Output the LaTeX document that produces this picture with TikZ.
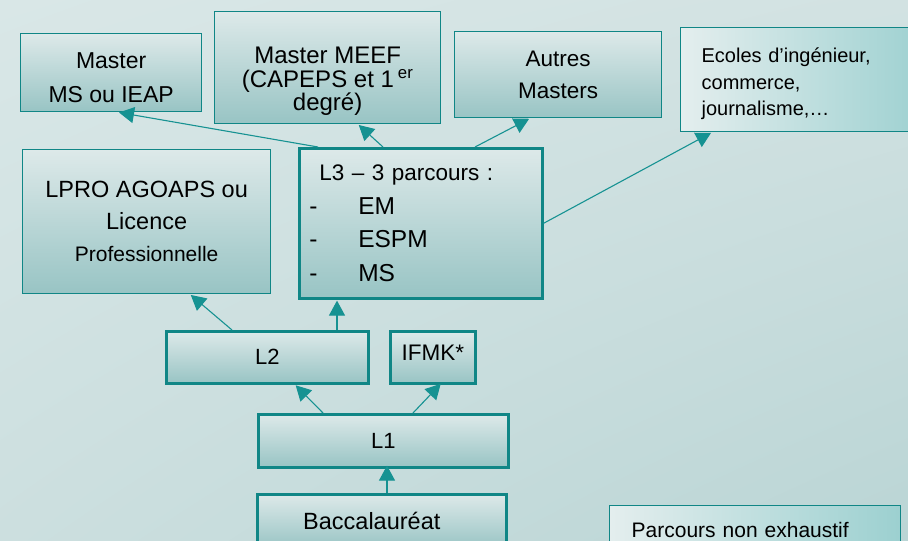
\documentclass[tikz,border=0pt]{standalone}
\usepackage{fontspec}
\setmainfont{Liberation Sans}
\usepackage{xcolor}
\usetikzlibrary{arrows.meta,shadings}

\definecolor{tealline}{RGB}{16,134,134}
\definecolor{tealarrow}{RGB}{22,146,146}
\definecolor{boxtop}{RGB}{221,233,233}
\definecolor{boxbot}{RGB}{152,196,196}
\definecolor{sideleft}{RGB}{228,238,238}
\definecolor{sideright}{RGB}{156,208,208}
\definecolor{bgul}{RGB}{217,231,231}
\definecolor{bgur}{RGB}{210,226,226}
\definecolor{bgll}{RGB}{204,223,223}
\definecolor{bglr}{RGB}{186,213,213}

\tikzset{
  box/.style={draw=tealline, line width=1.3pt, top color=boxtop, bottom color=boxbot,
    anchor=north west, align=center, inner sep=0pt},
  boxthick/.style={box, line width=2.6pt},
  boxside/.style={draw=tealline, line width=1.3pt, left color=sideleft, right color=sideright,
    anchor=north west, align=left, inner ysep=0pt},
  link/.style={draw=tealarrow, line width=1.1pt, shorten >=1pt,
    -{Triangle[length=15pt,width=16pt]}},
}

\begin{document}
\begin{tikzpicture}[x=1pt,y=-1pt]
    % background
    \useasboundingbox (0,0) rectangle (908,541);
    \shade[upper left=bgul, upper right=bgur, lower left=bgll, lower right=bglr]
        (0,0) rectangle (908,541);
    \clip (0,0) rectangle (908,541);

    % masters and schools
    \node[box, minimum width=181pt, minimum height=78pt,
        font=\fontsize{23}{34}\selectfont] (ms) at (20,33)
        {\rule{0pt}{26pt}Master\\MS ou IEAP};
    \node[box, minimum width=226pt, minimum height=112pt,
        font=\fontsize{24}{23.5}\selectfont] (meef) at (214,11)
        {\rule{0pt}{44pt}Master MEEF\\(CAPEPS et 1\,\textsuperscript{er}\\degré)};
    \node[box, minimum width=207pt, minimum height=86pt,
        font=\fontsize{22.5}{32}\selectfont] (autres) at (454,31)
        {Autres\\Masters};
    \node[boxside, inner xsep=21pt, text width=208pt, minimum height=104pt,
        font=\fontsize{20}{26.5}\selectfont] (ecoles) at (680,27)
        {\rule{0pt}{23pt}Ecoles d’ingénieur,\\commerce,\\journalisme,…};

    % licences
    \node[box, minimum width=248pt, minimum height=144pt,
        font=\fontsize{23.5}{32}\selectfont] (lpro) at (22,149)
        {LPRO AGOAPS ou\\Licence\\{\fontsize{21}{32}\selectfont Professionnelle}};
    \node[boxthick, align=left, inner xsep=10pt, text width=223pt, minimum height=150pt,
        font=\fontsize{22.5}{33.7}\selectfont] (l3) at (298,147)
        {\hspace*{10pt}L3 – 3 parcours :\\
         {\fontsize{24.5}{33.7}\selectfont\makebox[49pt][l]{-}EM}\\
         {\fontsize{24.5}{33.7}\selectfont\makebox[49pt][l]{-}ESPM}\\
         {\fontsize{24.5}{33.7}\selectfont\makebox[49pt][l]{-}MS}};
    \node[boxthick, minimum width=202pt, minimum height=52pt,
        font=\fontsize{22}{26}\selectfont] (l2) at (165,330) {L2};
    \node[boxthick, minimum width=85pt, minimum height=52pt,
        font=\fontsize{22.5}{26}\selectfont] (ifmk) at (389,330)
        {IFMK*\rule[-10pt]{0pt}{0pt}};
    \node[boxthick, minimum width=250pt, minimum height=53pt,
        font=\fontsize{22}{26}\selectfont] (l1) at (257,413) {L1};
    \node[boxthick, minimum width=249pt, minimum height=54pt,
        font=\fontsize{23.5}{26}\selectfont] (bac) at (256,493)
        {Baccalauréat\hspace*{20pt}};

    % note
    \node[boxside, inner xsep=22pt, text width=247pt, minimum height=49pt,
        font=\fontsize{21}{26}\selectfont] (note) at (609,505) {Parcours non exhaustif};

    % arrows
    \draw[link] ([xshift=20pt]l3.north west) -- ([xshift=98pt]ms.south west);
    \draw[link] ([xshift=85pt]l3.north west) -- ([xshift=144pt]meef.south west);
    \draw[link] ([xshift=177pt]l3.north west) -- ([xshift=76pt]autres.south west);
    \draw[link] (l3.east) -- ([xshift=32pt]ecoles.south west);
    \draw[link] ([xshift=67pt]l2.north west) -- ([xshift=168pt]lpro.south west);
    \draw[link] ([xshift=172pt]l2.north west) -- ([xshift=39pt]l3.south west);
    \draw[link] ([xshift=66pt]l1.north west) -- ([xshift=130pt]l2.south west);
    \draw[link, shorten >=-1pt] ([xshift=156pt]l1.north west) -- ([xshift=51pt]ifmk.south west);
    \draw[link, shorten >=-3pt] ([xshift=131pt]bac.north west) -- ([xshift=130pt]l1.south west);
\end{tikzpicture}
\end{document}
